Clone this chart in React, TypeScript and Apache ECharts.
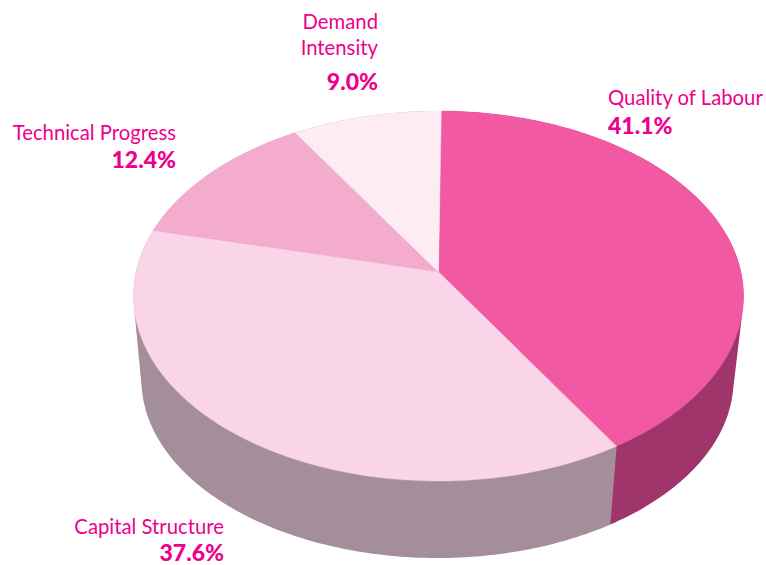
import React, { useEffect, useRef } from "react";
import * as echarts from "echarts";

const categories = ["Quality of Labour", "Capital Structure", "Technical Progress", "Demand\nIntensity"];
const shares = [41.1, 37.6, 12.4, 9.0];
const topColors = ["#f15aa2", "#f9d5e7", "#f4acce", "#fdecf3"];
const wallColors = ["#a0356b", "#a48e9b", "#a48e9b", "#a48e9b"];
const textColor = "#ec008c";
const startDegree = 0.6;

const topDisc = { cx: 438.5, cy: 296, rx: 305, ry: 185 };
const bottomDisc = { cx: 437.5, cy: 380, rx: 296, ry: 178 };
const tilt = 0.13;

// label anchors: [x, y of the bottom of the first line, align]
const labelAnchors: [number, number, "left" | "right"][] = [
  [608, 107, "left"],
  [224, 536, "right"],
  [176, 142, "right"],
  [378, 31, "right"],
];
const valueOffsets = [29, 27, 28.5, 35.5];

const total = shares.reduce((a, b) => a + b, 0);
const sliceStart = (i: number) =>
  startDegree + (shares.slice(0, i).reduce((a, b) => a + b, 0) / total) * 360;

type Pt = [number, number];

// circle point at a clockwise-from-top angle, seen in perspective
function project(deg: number, disc: typeof topDisc): Pt {
  const r = (deg * Math.PI) / 180;
  const x = Math.sin(r);
  const y = -Math.cos(r);
  const d = 1 - tilt * y;
  const px = (x * Math.sqrt(1 - tilt * tilt)) / d;
  const py = (y - tilt) / d;
  return [disc.cx + px * disc.rx, disc.cy + py * disc.ry];
}

function arcAngles(i: number, step: number): number[] {
  const a = sliceStart(i);
  const b = a + (shares[i] / total) * 360;
  const n = Math.max(2, Math.ceil((b - a) / step));
  const out: number[] = [];
  for (let k = 0; k <= n; k++) out.push(a + ((b - a) * k) / n);
  return out;
}

function convexHull(input: Pt[]): Pt[] {
  const pts = [...input].sort((p, q) => p[0] - q[0] || p[1] - q[1]);
  const cross = (o: Pt, a: Pt, b: Pt) =>
    (a[0] - o[0]) * (b[1] - o[1]) - (a[1] - o[1]) * (b[0] - o[0]);
  const half = (list: Pt[]) => {
    const h: Pt[] = [];
    for (const p of list) {
      while (h.length >= 2 && cross(h[h.length - 2], h[h.length - 1], p) <= 0) h.pop();
      h.push(p);
    }
    h.pop();
    return h;
  };
  return [...half(pts), ...half([...pts].reverse())];
}

// the wall is the hull of the slice's rim at the top and at the bottom;
// the tops drawn afterwards cover whatever falls behind them
function renderWall(params: any, api: any) {
  const i = api.value(1);
  const angles = arcAngles(i, 1);
  const points = convexHull([
    ...angles.map((a) => project(a, topDisc)),
    ...angles.map((a) => project(a, bottomDisc)),
  ]);
  return {
    type: "polygon",
    shape: { points },
    style: { fill: wallColors[i] },
  };
}

function renderTop(params: any, api: any) {
  const i = api.value(1);
  const centre: Pt = [topDisc.cx, topDisc.cy - tilt * topDisc.ry];
  const points = [centre, ...arcAngles(i, 1).map((a) => project(a, topDisc))];
  return {
    type: "polygon",
    shape: { points },
    style: { fill: topColors[i], stroke: topColors[i], lineWidth: 0.4 },
  };
}

function labelGraphics() {
  const out: any[] = [];
  categories.forEach((name, i) => {
    const [x, y, align] = labelAnchors[i];
    const lines = name.split("\n");
    lines.forEach((line, k) => {
      out.push({
        type: "text",
        x,
        y: y + k * 26,
        style: {
          text: line,
          fill: textColor,
          font: '400 20.3px Lato',
          textAlign: align,
          textVerticalAlign: "bottom",
        },
      });
    });
    out.push({
      type: "text",
      x,
      y: y + (lines.length - 1) * 26 + valueOffsets[i],
      style: {
        text: shares[i].toFixed(1) + "%",
        fill: textColor,
        font: '900 23px Lato',
        textAlign: align,
        textVerticalAlign: "bottom",
      },
    });
  });
  return out;
}

export default function App() {
  const ref = useRef<HTMLDivElement>(null);
  useEffect(() => {
    document.body.style.margin = "0";
    const chart = echarts.init(ref.current!, undefined, { renderer: "svg" });
    const data = shares.map((v, i) => ({ name: categories[i], value: [v, i] }));
    chart.setOption({
      animation: false,
      backgroundColor: "#ffffff",
      series: [
        { type: "custom", coordinateSystem: "none", silent: true, data, renderItem: renderWall, z: 1 },
        { type: "custom", coordinateSystem: "none", silent: true, data, renderItem: renderTop, z: 2 },
      ],
      graphic: { elements: labelGraphics() },
    });
    return () => chart.dispose();
  }, []);
  return <div ref={ref} style={{ width: 766, height: 565 }} />;
}
